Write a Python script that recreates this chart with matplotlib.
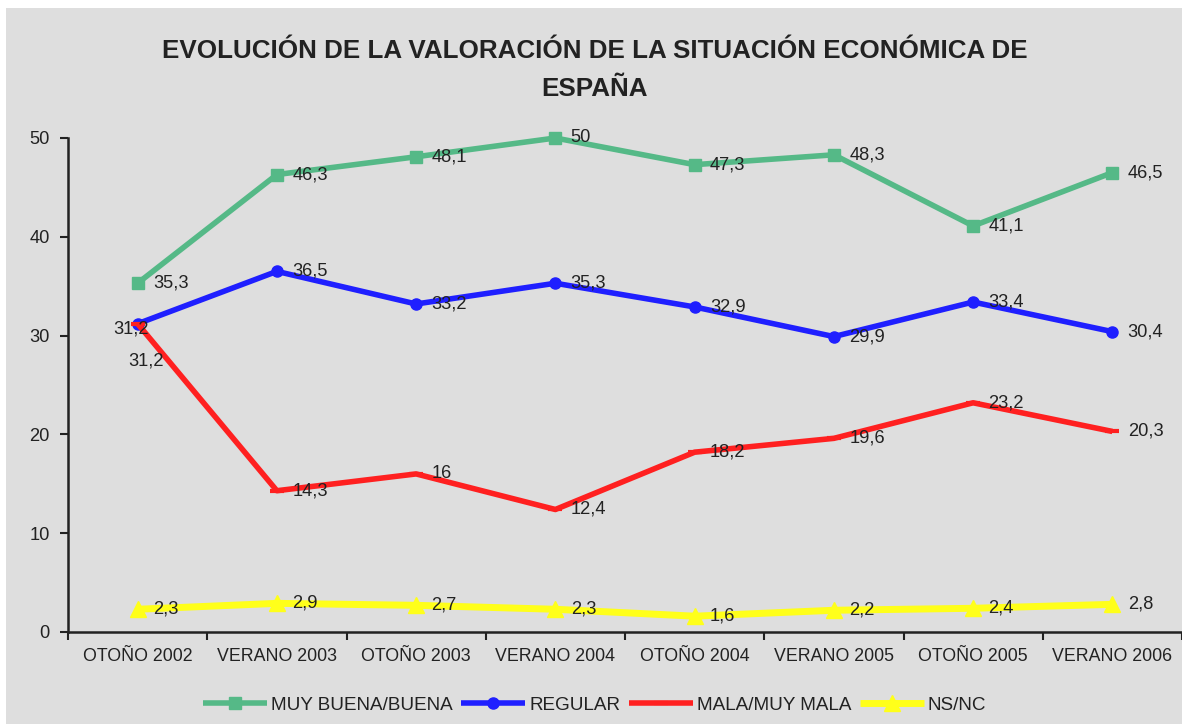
import matplotlib
matplotlib.use('Agg')
import matplotlib.pyplot as plt
from matplotlib.patches import Rectangle
from matplotlib import font_manager

# Data
periodos = ['OTOÑO 2002', 'VERANO 2003', 'OTOÑO 2003', 'VERANO 2004',
            'OTOÑO 2004', 'VERANO 2005', 'OTOÑO 2005', 'VERANO 2006']
buena = [35.3, 46.3, 48.1, 50, 47.3, 48.3, 41.1, 46.5]
regular = [31.2, 36.5, 33.2, 35.3, 32.9, 29.9, 33.4, 30.4]
mala = [31.2, 14.3, 16, 12.4, 18.2, 19.6, 23.2, 20.3]
nsnc = [2.3, 2.9, 2.7, 2.3, 1.6, 2.2, 2.4, 2.8]

names = {f.name for f in font_manager.fontManager.ttflist}
if 'Liberation Sans Narrow' in names:
    narrow = ['Liberation Sans Narrow', 'DejaVu Sans']
    nscale = 1.0
else:
    narrow = ['Liberation Sans', 'DejaVu Sans']
    nscale = 0.85
plt.rcParams['font.family'] = narrow

def fmt(v):
    return ('%g' % v).replace('.', ',')

fig = plt.figure(figsize=(11.82, 7.24), dpi=100)
fig.patch.set_facecolor('white')
bg = Rectangle((6/1182, 0), 1, 1 - 8/724, transform=fig.transFigure,
               facecolor='#dedede', edgecolor='none', zorder=-10)
fig.add_artist(bg)

ax = fig.add_axes([68/1182, (724-632)/724, (1182-68)/1182, (632-138)/724])
ax.set_facecolor('none')
ax.set_zorder(2)

x = list(range(len(periodos)))
series = [
    (buena, 'MUY BUENA/BUENA', '#55b987', 's', 8, 4),
    (regular, 'REGULAR', '#1f1fff', 'o', 8, 4),
    (mala, 'MALA/MUY MALA', '#ff2020', '_', 10, 4),
    (nsnc, 'NS/NC', '#ffff1a', '^', 11, 5),
]
for vals, lab, col, mk, ms, lw in series:
    ax.plot(x, vals, color=col, lw=lw, marker=mk, markersize=ms, mew=3 if mk == '_' else 1,
            label=lab, solid_capstyle='butt', zorder=3, clip_on=False)

# data labels (offsets in points)
for vals, lab, col, mk, ms, lw in series:
    for i, v in enumerate(vals):
        dx, dy, ha = 11, 0, 'left'
        if lab == 'REGULAR' and i == 0:
            dx, dy, ha = 8, -3.5, 'right'
        if lab == 'MALA/MUY MALA' and i == 0:
            dx, dy, ha = 19, -27, 'right'
        ax.annotate(fmt(v), (i, v), xytext=(dx, dy), textcoords='offset points',
                    ha=ha, va='center', fontsize=15.5 * nscale, color='#222222', zorder=4)

ax.set_xlim(-0.5, len(periodos) - 0.5)
ax.set_ylim(0, 50)
ax.set_yticks([0, 10, 20, 30, 40, 50])
ax.tick_params(axis='y', labelsize=15.5 * nscale, length=6, width=1.5, colors='#222222', pad=7)
ax.set_xticks([i + 0.5 for i in range(-1, len(periodos))])
ax.set_xticklabels([])
ax.tick_params(axis='x', length=6, width=1.5, colors='#222222')
for i, p in enumerate(periodos):
    ax.text(i, -0.033, p, transform=ax.get_xaxis_transform(), ha='center', va='top',
            fontsize=12.8, family=['Liberation Sans', 'DejaVu Sans'], color='#222222')
for s in ['top', 'right']:
    ax.spines[s].set_visible(False)
for s in ['left', 'bottom']:
    ax.spines[s].set_linewidth(1.8)
    ax.spines[s].set_color('#222222')

fig.text(0.503, 1 - 70/724, 'EVOLUCIÓN DE LA VALORACIÓN DE LA SITUACIÓN ECONÓMICA DE\nESPAÑA',
         ha='center', va='center', fontsize=22 * nscale, fontweight='bold', color='#222222',
         linespacing=1.75)

fig.legend(loc='center', bbox_to_anchor=(0.503, 1 - 705/724), ncol=4, frameon=False,
           fontsize=16 * nscale, handlelength=3.4, handletextpad=0.2, columnspacing=0.45,
           labelcolor='#222222')

fig.savefig('out.png', dpi=100)
